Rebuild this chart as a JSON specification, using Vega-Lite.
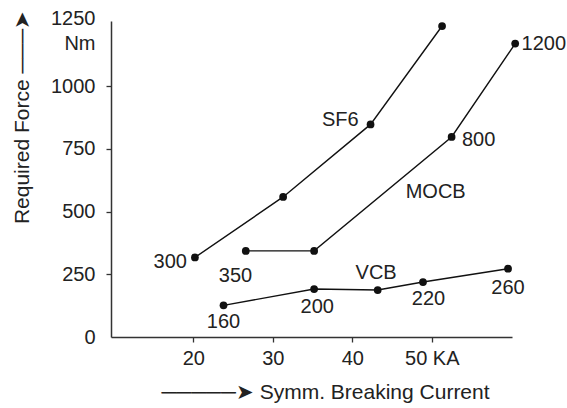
{
  "$schema": "https://vega.github.io/schema/vega-lite/v6.json",
  "width": 401,
  "height": 316,
  "autosize": "none",
  "padding": {"left": 111, "top": 21, "right": 55, "bottom": 71},
  "background": "white",
  "config": {
    "view": {"stroke": null},
    "font": "Liberation Sans",
    "axis": {
      "grid": false,
      "domainColor": "#333333",
      "domainWidth": 1.5,
      "tickColor": "#333333",
      "tickWidth": 1.3,
      "tickSize": 5,
      "labelFont": "Liberation Sans",
      "labelFontSize": 20,
      "labelColor": "#222222",
      "titleFont": "Liberation Sans",
      "titleFontSize": 21,
      "titleFontWeight": "normal",
      "titleColor": "#222222",
      "labelFlush": false,
      "labelOverlap": false
    }
  },
  "datasets": {
    "points": [
      {"series": "SF6", "current": 20.2, "force": 317},
      {"series": "SF6", "current": 31.3, "force": 558},
      {"series": "SF6", "current": 42.3, "force": 847},
      {"series": "SF6", "current": 51.3, "force": 1239},
      {"series": "MOCB", "current": 26.6, "force": 343},
      {"series": "MOCB", "current": 35.2, "force": 343},
      {"series": "MOCB", "current": 52.5, "force": 797},
      {"series": "MOCB", "current": 60.5, "force": 1169},
      {"series": "VCB", "current": 23.8, "force": 126},
      {"series": "VCB", "current": 35.2, "force": 191},
      {"series": "VCB", "current": 43.2, "force": 187},
      {"series": "VCB", "current": 48.9, "force": 219},
      {"series": "VCB", "current": 59.6, "force": 272}
    ],
    "labels": [
      {"text": "300", "current": 17.1, "force": 299},
      {"text": "350", "current": 25.3, "force": 243},
      {"text": "160", "current": 23.8, "force": 60},
      {"text": "200", "current": 35.6, "force": 120},
      {"text": "220", "current": 49.6, "force": 151},
      {"text": "260", "current": 59.6, "force": 194},
      {"text": "800", "current": 55.9, "force": 785},
      {"text": "1200", "current": 64.1, "force": 1169},
      {"text": "SF6", "current": 38.5, "force": 865},
      {"text": "MOCB", "current": 50.5, "force": 578},
      {"text": "VCB", "current": 43.0, "force": 256}
    ]
  },
  "encoding": {
    "x": {
      "field": "current",
      "type": "quantitative",
      "scale": {"domain": [9.64, 60.1], "nice": false, "zero": false},
      "axis": {
        "values": [20, 30, 40, 50],
        "labelExpr": "datum.value == 50 ? '50 KA' : datum.label",
        "labelPadding": 6,
        "title": "─────➤ Symm. Breaking Current",
        "titleX": 214,
        "titleY": 55,
        "titleAlign": "center",
        "titleBaseline": "middle"
      }
    },
    "y": {
      "field": "force",
      "type": "quantitative",
      "scale": {"domain": [0, 1259], "nice": false},
      "axis": {
        "values": [0, 250, 500, 750, 1000, 1250],
        "format": "d",
        "labelExpr": "datum.value == 1250 ? ['1250', 'Nm'] : datum.label",
        "labelPadding": 11,
        "labelOffset": {"condition": {"test": "datum.value == 1250", "value": -5}, "value": 0},
        "tickOpacity": {"condition": {"test": "datum.value == 1250 || datum.value == 0", "value": 0}, "value": 1},
        "labelLineHeight": 25,
        "title": "Required Force ───➤",
        "titleX": -89,
        "titleY": 96,
        "titleAngle": -90,
        "titleAlign": "center",
        "titleBaseline": "middle"
      }
    }
  },
  "layer": [
    {
      "data": {"name": "points"},
      "mark": {"type": "line", "color": "#111111", "strokeWidth": 1.4},
      "encoding": {"detail": {"field": "series"}, "order": {"field": "current"}}
    },
    {
      "data": {"name": "points"},
      "mark": {"type": "point", "filled": true, "color": "#111111", "size": 60, "opacity": 1}
    },
    {
      "data": {"name": "labels"},
      "mark": {"type": "text", "fontSize": 20, "color": "#222222", "font": "Liberation Sans", "align": "center", "baseline": "middle", "clip": false},
      "encoding": {"text": {"field": "text"}}
    }
  ]
}
